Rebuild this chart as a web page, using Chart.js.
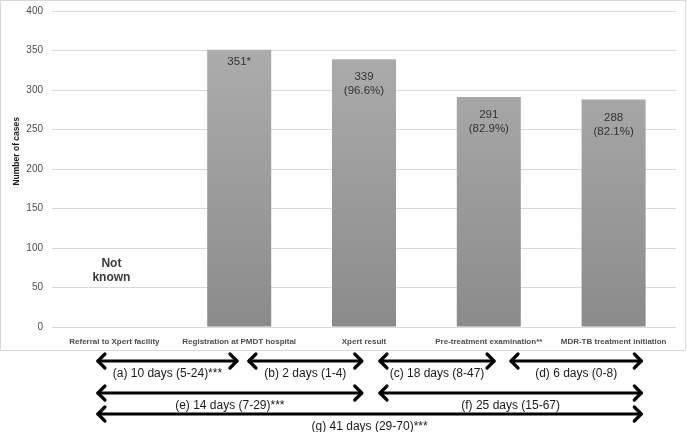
<!DOCTYPE html>
<html>
<head>
<meta charset="utf-8">
<script src="https://cdn.jsdelivr.net/npm/chart.js@4/dist/chart.umd.min.js"></script>
<style>
  html, body { margin: 0; padding: 0; background: #fff; }
  #wrap { width: 687px; height: 432px; position: relative; }
</style>
</head>
<body>
<div id="wrap"><canvas id="myChart"></canvas></div>
<script>
// categories along the x-axis
var steps = ["Referral to Xpert facility", "Registration at PMDT hospital", "Xpert result",
             "Pre-treatment examination**", "MDR-TB treatment initiation"];
// number of cases (first step not known)
var cases = [null, 351, 339, 291, 288];
// text written inside each bar
var barText = [["Not", "known"], ["351*"], ["339", "(96.6%)"], ["291", "(82.9%)"], ["288", "(82.1%)"]];
var yTicks = [0, 50, 100, 150, 200, 250, 300, 350, 400];

// intervals between steps, in category units (from, to), and their labels
var intervalFrom = [-0.14, 1.07, 2.12, 3.17, -0.14, 2.12, -0.14];
var intervalTo   = [0.99, 1.99, 3.05, 4.23, 1.99, 4.23, 4.23];
var intervalRow  = [0, 0, 0, 0, 1, 1, 2];
var intervalText = ["(a) 10 days (5-24)***", "(b) 2 days (1-4)", "(c) 18 days (8-47)", "(d) 6 days (0-8)",
                    "(e) 14 days (7-29)***", "(f) 25 days (15-67)", "(g) 41 days (29-70)***"];

var rowY = [361, 393, 414];

function barFill(context) {
  var chart = context.chart;
  var area = chart.chartArea;
  if (!area) return '#9c9c9c';
  var g = chart.ctx.createLinearGradient(0, area.top + 30, 0, area.bottom);
  g.addColorStop(0, '#adadad');
  g.addColorStop(1, '#8b8b8b');
  return g;
}

var extras = {
  id: 'extras',
  beforeDraw: function(chart) {
    var ctx = chart.ctx;
    ctx.save();
    ctx.strokeStyle = '#d9d9d9';
    ctx.lineWidth = 1;
    ctx.strokeRect(0.5, 0.5, 685, 350);
    ctx.restore();
  },
  afterDatasetsDraw: function(chart) {
    var ctx = chart.ctx;
    var x = chart.scales.x, y = chart.scales.y;
    var meta = chart.getDatasetMeta(0);
    ctx.save();
    ctx.textAlign = 'center';
    ctx.textBaseline = 'middle';
    for (var i = 0; i < barText.length; i++) {
      var lines = barText[i];
      if (cases[i] === null) {
        ctx.font = 'bold 12px "Liberation Sans", Arial, sans-serif';
        ctx.fillStyle = '#3a3a3a';
        var cy = y.getPixelForValue(71);
        ctx.fillText(lines[0], x.getPixelForValue(i) - 3, cy - 7);
        ctx.fillText(lines[1], x.getPixelForValue(i) - 3, cy + 7);
        continue;
      }
      var bar = meta.data[i];
      ctx.font = '11.5px "Liberation Sans", Arial, sans-serif';
      ctx.fillStyle = '#333333';
      var top = bar.y + (lines.length > 1 ? 18 : 12);
      for (var k = 0; k < lines.length; k++) {
        ctx.fillText(lines[k], bar.x, top + k * 14);
      }
    }
    ctx.restore();
  },
  afterDraw: function(chart) {
    var ctx = chart.ctx;
    var x = chart.scales.x;
    ctx.save();
    ctx.strokeStyle = '#000';
    ctx.fillStyle = '#1a1a1a';
    ctx.lineWidth = 3.2;
    ctx.lineCap = 'round';
    ctx.lineJoin = 'round';
    ctx.font = '12px "Liberation Sans", Arial, sans-serif';
    ctx.textAlign = 'center';
    ctx.textBaseline = 'middle';
    for (var i = 0; i < intervalText.length; i++) {
      var x1 = x.getPixelForValue(intervalFrom[i]);
      var x2 = x.getPixelForValue(intervalTo[i]);
      var yy = rowY[intervalRow[i]];
      ctx.beginPath();
      ctx.moveTo(x1 + 1, yy);
      ctx.lineTo(x2 - 1, yy);
      ctx.stroke();
      ctx.beginPath();
      ctx.moveTo(x1 + 8, yy - 7);
      ctx.lineTo(x1 + 1, yy);
      ctx.lineTo(x1 + 8, yy + 7);
      ctx.moveTo(x2 - 8, yy - 7);
      ctx.lineTo(x2 - 1, yy);
      ctx.lineTo(x2 - 8, yy + 7);
      ctx.stroke();
      ctx.fillText(intervalText[i], (x1 + x2) / 2, yy + 13);
    }
    ctx.restore();
  }
};

var ctx = document.getElementById("myChart");
var myChart = new Chart(ctx, {
  type: 'bar',
  data: {
    labels: steps,
    datasets: [{
      data: cases,
      backgroundColor: barFill,
      borderWidth: 0,
      barPercentage: 0.513,
      categoryPercentage: 1
    }]
  },
  options: {
    responsive: true,
    maintainAspectRatio: false,
    animation: false,
    layout: { padding: { top: 11, right: 11, left: 0, bottom: 85 } },
    plugins: { legend: { display: false }, tooltip: { enabled: false } },
    scales: {
      x: {
        grid: { display: false },
        border: { display: false },
        ticks: {
          color: '#4d4d4d',
          padding: 2,
          maxRotation: 0,
          autoSkip: false,
          font: { family: '"Liberation Sans", Arial, sans-serif', size: 8, weight: 'bold' }
        },
        afterFit: function(s) { s.height = 20; }
      },
      y: {
        min: 0,
        max: 400,
        afterBuildTicks: function(s) { s.ticks = yTicks.map(function(v) { return { value: v }; }); },
        grid: { color: '#d9d9d9', drawTicks: false },
        border: { display: false },
        ticks: {
          color: '#4d4d4d',
          padding: 9,
          font: { family: '"Liberation Sans", Arial, sans-serif', size: 10 }
        },
        title: {
          display: true,
          text: '               Number of cases',
          color: '#1a1a1a',
          padding: { top: 12, bottom: 0 },
          font: { family: '"Liberation Sans", Arial, sans-serif', size: 8.5, weight: 'bold' }
        },
        afterFit: function(s) { s.width = 52; s.paddingTop = 0; s.paddingBottom = 0; }
      }
    }
  },
  plugins: [extras]
});
</script>
</body>
</html>
